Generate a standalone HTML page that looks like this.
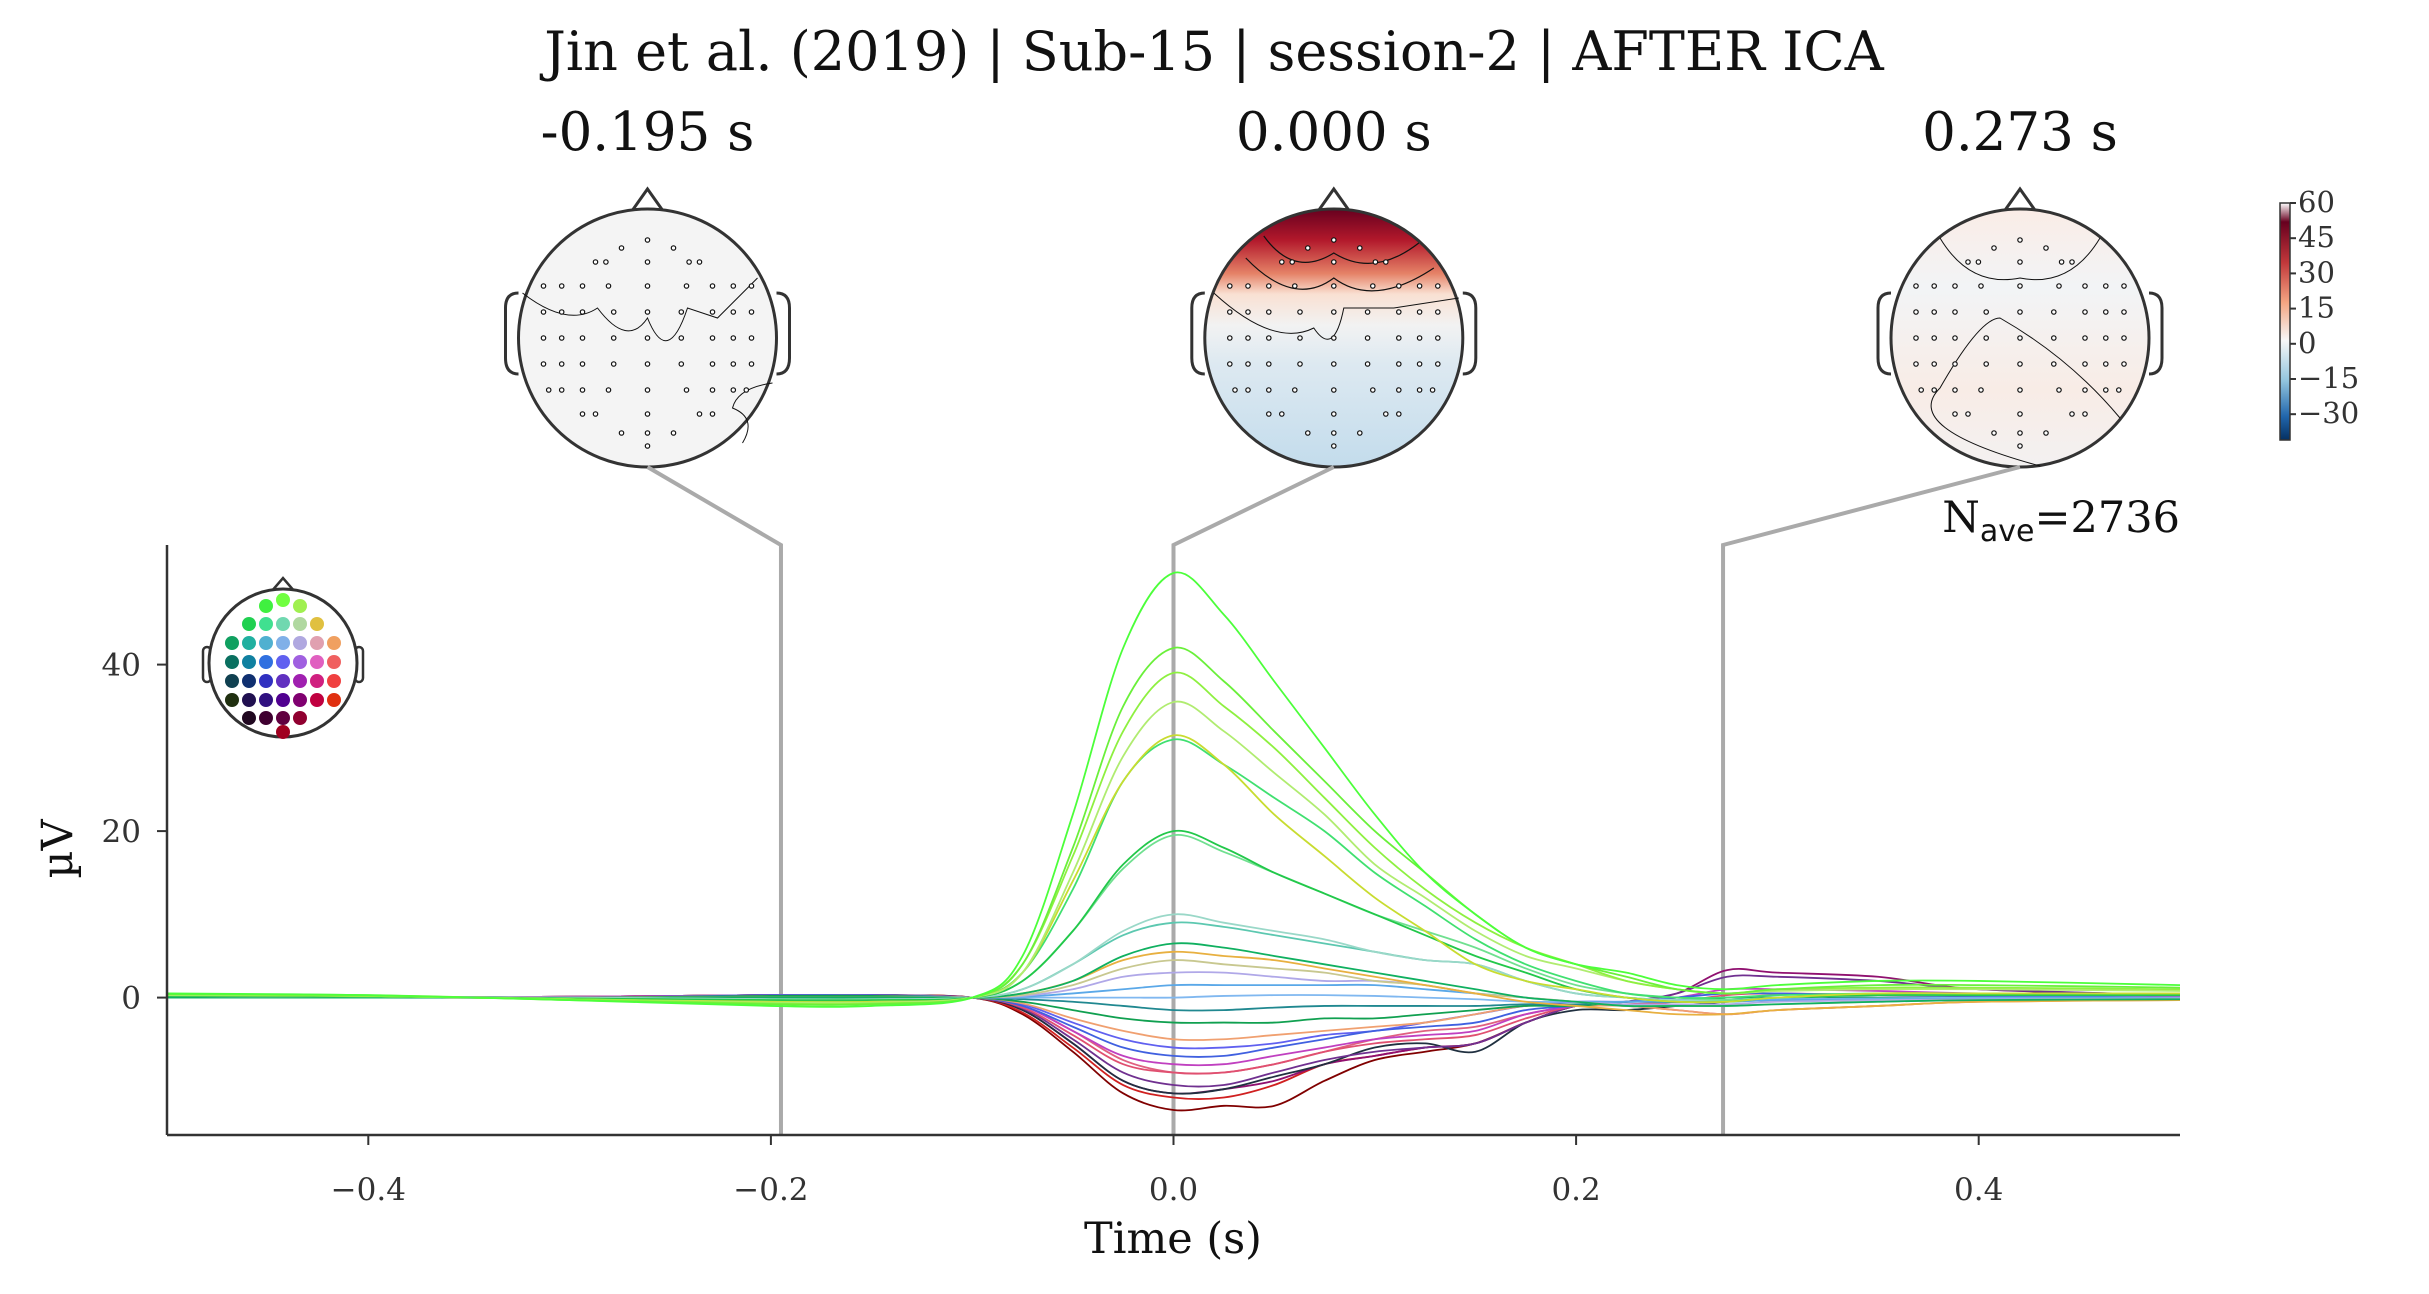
<!DOCTYPE html>
<html><head><meta charset="utf-8">
<style>
html,body{margin:0;padding:0;background:#fff;}
svg{display:block;font-family:"DejaVu Serif","Liberation Serif",serif;}
</style></head>
<body>
<svg id="fig" width="2429" height="1294" viewBox="0 0 2429 1294" xmlns="http://www.w3.org/2000/svg">
<defs>
<linearGradient id="cbar" x1="0" y1="0" x2="0" y2="1">
<stop offset="0" stop-color="#ffffff"/><stop offset="0.08" stop-color="#67001f"/><stop offset="0.25" stop-color="#c1373a"/><stop offset="0.42" stop-color="#f4a582"/><stop offset="0.58" stop-color="#f7f7f7"/><stop offset="0.75" stop-color="#92c5de"/><stop offset="0.9" stop-color="#2166ac"/><stop offset="1" stop-color="#053061"/>
</linearGradient>
<linearGradient id="topo2" x1="0" y1="0" x2="0" y2="1">
<stop offset="0" stop-color="#67001f"/><stop offset="0.12" stop-color="#b2182b"/><stop offset="0.25" stop-color="#e58267"/><stop offset="0.33" stop-color="#f9e0d2"/><stop offset="0.45" stop-color="#f2f2f2"/><stop offset="0.6" stop-color="#dde9f1"/><stop offset="1" stop-color="#c3dcec"/>
</linearGradient>
<linearGradient id="topo3" x1="0" y1="0" x2="0" y2="1">
<stop offset="0" stop-color="#faece6"/><stop offset="0.3" stop-color="#f2f4f6"/><stop offset="0.7" stop-color="#f8ece6"/><stop offset="1" stop-color="#f3f1f1"/>
</linearGradient>
<clipPath id="axclip"><rect x="167" y="545" width="2013" height="590"/></clipPath>
</defs>
<text x="1214" y="70" font-size="54" text-anchor="middle" fill="#111">Jin et al. (2019) | Sub-15 | session-2 | AFTER ICA</text>
<g id="topos"></g>
<g id="axes"></g>
</svg>
<script>
const times = [-0.5,-0.4,-0.3,-0.2,-0.15,-0.1,-0.075,-0.05,-0.025,0,0.025,0.05,0.075,0.1,0.125,0.15,0.175,0.2,0.225,0.25,0.275,0.3,0.35,0.4,0.5];
const chG51 = [0.5,0.3,-0.3,-1,-1,0,5,22,42,51,46,38,30,22,15,10,6,4,3,1.5,1,1.5,2,2,1.5];
const chG42 = [0.4,0.3,-0.3,-0.8,-0.8,0,4,18,35,42,38,32,26,20,15,10,6,4,2.5,1,0.5,1,1.5,1.5,1.2];
const chG39 = [0.4,0.2,-0.2,-0.7,-0.7,0,4,17,32,39,35,30,24,18,13,9,6,4,2,1,0.5,1,1.2,1.2,1];
const chG35 = [0.3,0.2,-0.2,-0.6,-0.6,0,3,15,29,35.5,32,27,22,16,12,8,5,3.5,2,1,0.5,0.8,1,1,0.8];
const chY31 = [0.3,0.2,-0.2,-0.5,-0.5,0,3,14,26,31.5,28,22,17,12,8,4,2,1,0,-0.5,-0.5,0,0.5,0.5,0.5];
const chG31 = [0.3,0.2,-0.2,-0.5,-0.5,0,3,13,26,31,28,24,20,15,11,7,4,2,0.5,0,0,0.3,0.5,0.5,0.5];
const chG20 = [0.2,0.1,-0.1,-0.3,-0.3,0,2,8,16,20,18,15,12.5,10,7.5,5,3,1,0,-0.5,-0.5,0,0.3,0.3,0.3];
const chG19 = [0.2,0.1,-0.1,-0.3,-0.3,0,2,8,15.5,19.5,17.5,15,12.5,10,8,6,3.5,1.5,0.5,0,-0.3,0,0.3,0.3,0.3];
const chT10 = [0.2,0.1,0,-0.2,-0.2,0,1,4,8,10,9,8,7,5.5,4.5,4,2,0.5,0,-0.3,-0.3,0,0.3,0.3,0.3];
const chT9 = [0.2,0.1,0,-0.2,-0.2,0,1,4,7.5,9,8.5,7.5,6.5,5.5,4.5,4,2,0.5,0,-0.3,-0.3,0,0.3,0.3,0.3];
const chG6 = [0,0,0,0,0,0,0.5,2,5,6.5,6,5,4,3,2,1,0,-0.5,-1,-1,-1,-0.8,-0.5,-0.3,-0.2];
const chO5 = [0,0,0,0,0,0,0.5,2,4.5,5.5,5,4.5,3.5,2.5,1.5,0.5,-0.5,-1,-1.5,-2,-2,-1.5,-1,-0.5,-0.3];
const chTan4 = [0,0,0,0,0,0,0.3,1.5,3.5,4.5,4,3.5,3,2,1.5,0.5,0,-0.5,-1,-1,-1,-0.8,-0.5,-0.3,-0.2];
const chLav3 = [0,0,0,0,0,0,0.2,1,2.5,3,3,2.5,2,2,1.5,0.5,0,-0.5,-0.8,-0.8,-0.8,-0.5,-0.3,-0.2,-0.1];
const chB15 = [0,0,0,0,0,0,0.1,0.5,1,1.5,1.5,1.5,1.5,1.5,1,0.5,0,-0.5,-0.5,-0.5,-0.5,-0.3,-0.2,-0.1,0];
const chLb0 = [0,0,0,0,0,0,0,0,0,0,0.2,0.3,0.3,0.2,0,-0.2,-0.5,-0.5,-0.5,-0.3,-0.3,-0.2,-0.1,0,0];
const chTl1 = [0,0,0,0,0,0,-0.2,-0.5,-1,-1.5,-1.5,-1.2,-1,-1,-1,-1,-0.8,-0.8,-0.5,-0.5,-0.3,-0.2,-0.1,0,0];
const chN3 = [0,0,0,0.2,0.2,0,-0.5,-1.5,-2.5,-3,-3,-3,-2.5,-2.5,-2,-1.5,-1,-1,-0.5,-0.5,0,0,0,0,0];
const chN5 = [0,0,0,0.2,0.2,0,-0.7,-2.5,-4,-5,-5,-4.5,-4,-3.5,-3,-2,-1,-1,-1,-1.5,-2,-1.5,-1,-0.5,-0.3];
const chN7 = [0,0,0,0.3,0.3,0,-1,-3.5,-6,-7,-7,-6,-5,-4,-3.5,-3,-1.5,-1,-0.5,0,0.5,0.5,0.3,0.2,0];
const chN8 = [0,0,0.1,0.3,0.3,0,-1,-4,-7,-8,-8,-7,-6,-5,-4.5,-4,-2,-1,-0.5,0,1,1,0.8,0.5,0.2];
const chN9 = [0,0,0.1,0.3,0.3,0,-1.2,-4.5,-8,-9,-9,-8,-6.5,-5.5,-5,-4.5,-2.5,-1,-0.8,-0.5,0.3,0.5,0.3,0.2,0];
const chN10 = [0,0,0.1,0.3,0.3,0,-1.3,-5,-9,-10.5,-10.5,-9,-7.5,-6.5,-6,-5.5,-3,-1,-0.5,0.5,2.5,2.5,2,1,0.3];
const chN11 = [0,0,0.1,0.3,0.3,0,-1.5,-5.5,-10,-11.5,-11,-9.5,-8,-6,-5.5,-6.5,-3,-1.5,-1.5,-1,-0.5,-0.3,-0.2,-0.1,0];
const chN12 = [0,0,0.1,0.3,0.3,0,-1.5,-5.5,-10,-11.5,-11,-10,-8,-7,-6,-5.5,-3,-1,-0.5,0.5,3.3,3,2.5,1,0.3];
const chR12 = [0,0,0.1,0.3,0.3,0,-1.8,-6,-10.5,-12,-12,-10.5,-8,-7,-6,-5.5,-3,-1,-0.5,-0.5,-0.3,-0.2,-0.1,0,0];
const chR13 = [0,0,0.1,0.3,0.3,0,-2,-6.5,-11.5,-13.5,-13,-13,-10,-7.5,-6.5,-5.5,-3,-1,-0.5,-0.5,-0.3,-0.2,-0.1,0,0];
const chV6 = [0,0,0,0.2,0.2,0,-0.8,-3,-5,-6,-6,-5.5,-4.5,-4,-3,-2,-1,-0.5,-0.5,-0.3,0,0,0,0,0];
const chP9 = [0,0,0,0.2,0.2,0,-1,-4,-7.5,-9,-9,-8,-6.5,-5,-4,-3.5,-2,-1,-1,-1.5,-2,-1.5,-1,-0.5,-0.2];
const seriesList = [
 [chG51,'#4cff3a'],[chG42,'#6af03a'],[chG39,'#8ef040'],[chG35,'#b0ec70'],[chY31,'#c8dc30'],[chG31,'#40e070'],
 [chG20,'#22c84a'],[chG19,'#70e090'],[chT10,'#9ad8c8'],[chT9,'#5cc8b0'],[chG6,'#10b060'],[chO5,'#e8b040'],
 [chTan4,'#c8c890'],[chLav3,'#b0a8e8'],[chB15,'#5aa8e8'],[chLb0,'#80b8f0'],[chTl1,'#208890'],[chN3,'#10a050'],
 [chN5,'#f0a070'],[chN7,'#4060e0'],[chN8,'#c040c0'],[chN9,'#e05070'],[chN10,'#703090'],[chN11,'#203040'],
 [chN12,'#901070'],[chR12,'#d02020'],[chR13,'#800000'],[chV6,'#6060f0'],[chP9,'#e06080']];
const xTicks = [-0.4,-0.2,0.0,0.2,0.4];
const xTickLabels = ['\u22120.4','\u22120.2','0.0','0.2','0.4'];
const yTicks = [0,20,40];
const yTickLabels = ['0','20','40'];
const topoTimes = [-0.195,0.000,0.273];
const topoLabels = ['-0.195 s','0.000 s','0.273 s'];
const cbarTicks = [60,45,30,15,0,-15,-30];
const cbarLabels = ['60','45','30','15','0','\u221215','\u221230'];

const NS='http://www.w3.org/2000/svg';
function mk(tag,attrs,parent){const e=document.createElementNS(NS,tag);for(const k in attrs)e.setAttribute(k,attrs[k]);parent.appendChild(e);return e;}
const X0=167,X1=2180,Y0=545,Y1=1135;
const xs=t=>X0+(t+0.5)/1.0*(X1-X0);
const ys=v=>997.6-v*(997.6-664.6)/40;
const ax=document.getElementById('axes');
const tp=document.getElementById('topos');

const heads=[647.5,1333.8,2020];
const fills=['#f4f4f4','url(#topo2)','url(#topo3)'];
const R=129, CY=338;
const rows=[[-98,[0]],[-90,[-1,1]],[-76,[-2,-1.6,0,1.6,2]],[-52,[-4,-3.3,-2.5,-1.5,0,1.5,2.5,3.3,4]],[-26,[-4,-3.3,-2.5,-1.3,0,1.3,2.5,3.3,4]],[0,[-4,-3.3,-2.5,-1.3,0,1.3,2.5,3.3,4]],[26,[-4,-3.3,-2.5,-1.3,0,1.3,2.5,3.3,4]],[52,[-3.8,-3.3,-2.5,-1.5,0,1.5,2.5,3.3,3.8]],[76,[-2.5,-2,0,2,2.5]],[95,[-1,0,1]],[108,[0]]];
heads.forEach((cx,i)=>{
 const g=mk('g',{},tp);
 
 
 const lab=mk('text',{x:cx,y:150,'font-size':53,'text-anchor':'middle',fill:'#111'},g);lab.textContent=topoLabels[i];
 
 
 mk('path',{d:`M${cx-17} ${CY-R+4} L${cx} ${CY-R-20} L${cx+17} ${CY-R+4}`,fill:'none',stroke:'#333','stroke-width':3},g);
 mk('path',{d:`M${cx-R} ${CY-45} Q${cx-R-13} ${CY-45} ${cx-R-13} ${CY-30} L${cx-R-13} ${CY+20} Q${cx-R-13} ${CY+36} ${cx-R} ${CY+36}`,fill:'none',stroke:'#333','stroke-width':3},g);
 mk('path',{d:`M${cx+R} ${CY-45} Q${cx+R+13} ${CY-45} ${cx+R+13} ${CY-30} L${cx+R+13} ${CY+20} Q${cx+R+13} ${CY+36} ${cx+R} ${CY+36}`,fill:'none',stroke:'#333','stroke-width':3},g);
 mk('circle',{cx:cx,cy:CY,r:R,fill:fills[i],stroke:'#333','stroke-width':3},g);
 if(i===1){
  mk('path',{d:`M${cx-70} ${CY-102} Q${cx-40} ${CY-60} ${cx} ${CY-85} Q${cx+40} ${CY-60} ${cx+85} ${CY-95}`,fill:'none',stroke:'#111','stroke-width':1.2},g);
  mk('path',{d:`M${cx-88} ${CY-80} Q${cx-40} ${CY-30} ${cx} ${CY-60} Q${cx+40} ${CY-30} ${cx+100} ${CY-70}`,fill:'none',stroke:'#111','stroke-width':1.2},g);
  mk('path',{d:`M${cx-120} ${CY-45} Q${cx-60} ${CY+10} ${cx-20} ${CY-10} Q${cx} ${CY+20} ${cx+10} ${CY-30} L${cx+60} ${CY-30} L${cx+125} ${CY-40}`,fill:'none',stroke:'#111','stroke-width':1},g);
 } else if(i===0){
  mk('path',{d:`M${cx-125} ${CY-45} Q${cx-80} ${CY-10} ${cx-50} ${CY-30} Q${cx-20} ${CY+10} ${cx} ${CY-20} Q${cx+20} ${CY+30} ${cx+40} ${CY-30} L${cx+70} ${CY-20} L${cx+110} ${CY-60}`,fill:'none',stroke:'#111','stroke-width':1},g);
  mk('path',{d:`M${cx+125} ${CY+45} Q${cx+90} ${CY+50} ${cx+85} ${CY+70} Q${cx+110} ${CY+80} ${cx+95} ${CY+105}`,fill:'none',stroke:'#111','stroke-width':1},g);
 } else {
  mk('path',{d:`M${cx-80} ${CY-100} Q${cx-50} ${CY-50} ${cx} ${CY-60} Q${cx+50} ${CY-50} ${cx+80} ${CY-100}`,fill:'none',stroke:'#111','stroke-width':1},g);
  mk('path',{d:`M${cx+20} ${CY+128} Q${cx-120} ${CY+90} ${cx-80} ${CY+50} Q${cx-40} ${CY-20} ${cx-20} ${CY-20} Q${cx+50} ${CY+20} ${cx+100} ${CY+80}`,fill:'none',stroke:'#111','stroke-width':1},g);
 }
 rows.forEach(([dy,cols])=>cols.forEach(c=>{mk('circle',{cx:cx+c*26,cy:CY+dy,r:2.2,fill:'#fff',stroke:'#111','stroke-width':1.2},g);}));
});
const cb=mk('g',{},tp);


mk('rect',{x:2280,y:203,width:10,height:237,fill:'url(#cbar)',stroke:'#333','stroke-width':1.5},cb);
const cbY=v=>203+(60-v)/(60+41)*237;
cbarTicks.forEach((v,i)=>{mk('line',{x1:2290,x2:2296,y1:cbY(v),y2:cbY(v),stroke:'#333','stroke-width':2},cb);
 const t=mk('text',{x:2298,y:cbY(v)+9,'font-size':29,fill:'#333'},cb);t.textContent=cbarLabels[i];});

topoTimes.forEach((t,i)=>{const l=mk('polyline',{points:`${heads[i]},${CY+R} ${xs(t)},545 ${xs(t)},1135`,fill:'none',stroke:'#aaa','stroke-width':4},ax);
 
 });

const sg=mk('g',{'clip-path':'url(#axclip)'},ax);


function smooth(pts){let d=`M${pts[0][0]} ${pts[0][1]}`;for(let i=0;i<pts.length-1;i++){const p0=pts[Math.max(0,i-1)],p1=pts[i],p2=pts[i+1],p3=pts[Math.min(pts.length-1,i+2)];
 d+=` C${p1[0]+(p2[0]-p0[0])/6} ${p1[1]+(p2[1]-p0[1])/6} ${p2[0]-(p3[0]-p1[0])/6} ${p2[1]-(p3[1]-p1[1])/6} ${p2[0]} ${p2[1]}`;}return d;}
seriesList.slice().reverse().forEach(([vals,col])=>{
 const p=mk('path',{d:smooth(times.map((t,i)=>[xs(t),ys(vals[i])])),fill:'none',stroke:col,'stroke-width':1.8},sg);
 
 
});

mk('line',{x1:X0,x2:X0,y1:Y0,y2:Y1,stroke:'#333','stroke-width':2.5},ax);
mk('line',{x1:X0,x2:X1,y1:Y1,y2:Y1,stroke:'#333','stroke-width':2.5},ax);
xTicks.forEach((t,i)=>{mk('line',{x1:xs(t),x2:xs(t),y1:Y1,y2:Y1+10,stroke:'#333','stroke-width':2},ax);
 const tx=mk('text',{x:xs(t),y:1200,'font-size':31,'text-anchor':'middle',fill:'#333'},ax);tx.textContent=xTickLabels[i];
 
 });
yTicks.forEach((v,i)=>{mk('line',{x1:X0-10,x2:X0,y1:ys(v),y2:ys(v),stroke:'#333','stroke-width':2},ax);
 const tx=mk('text',{x:X0-26,y:ys(v)+11,'font-size':31,'text-anchor':'end',fill:'#333'},ax);tx.textContent=yTickLabels[i];
 
 });
</script>
<svg style="position:absolute;left:0;top:0" width="2429" height="1294" viewBox="0 0 2429 1294" font-family="DejaVu Serif, Liberation Serif, serif">
<text x="1173" y="1253" font-size="43" text-anchor="middle" fill="#111">Time (s)</text>
<text transform="translate(72,849) rotate(-90)" font-size="43" text-anchor="middle" fill="#111">µV</text>
<text x="2180" y="532" font-size="43" text-anchor="end" fill="#111">N<tspan font-size="30" dy="9" font-family="DejaVu Sans, sans-serif">ave</tspan><tspan dy="-9">=2736</tspan></text>
<g>
<path d="M271 592 L283 578 L295 592" fill="none" stroke="#333" stroke-width="2.5"/>
<rect x="203" y="647" width="8" height="35" rx="4" fill="none" stroke="#333" stroke-width="2.5"/>
<rect x="355" y="647" width="8" height="35" rx="4" fill="none" stroke="#333" stroke-width="2.5"/>
<circle cx="283" cy="663" r="74" fill="#fff" stroke="#333" stroke-width="3"/>
<g>
<circle cx="283" cy="600" r="7" fill="#70ff40"/><circle cx="266" cy="606" r="7" fill="#40f040"/><circle cx="300" cy="606" r="7" fill="#a0f050"/>
<circle cx="249" cy="624" r="7" fill="#20d050"/><circle cx="266" cy="624" r="7" fill="#40e090"/><circle cx="283" cy="624" r="7" fill="#70d8b0"/><circle cx="300" cy="624" r="7" fill="#b0d8a0"/><circle cx="317" cy="624" r="7" fill="#e0c040"/>
<circle cx="232" cy="643" r="7" fill="#10a060"/><circle cx="249" cy="643" r="7" fill="#20b0a0"/><circle cx="266" cy="643" r="7" fill="#50b0d0"/><circle cx="283" cy="643" r="7" fill="#80b0e8"/><circle cx="300" cy="643" r="7" fill="#b0a8e0"/><circle cx="317" cy="643" r="7" fill="#e0a0b0"/><circle cx="334" cy="643" r="7" fill="#f0a060"/>
<circle cx="232" cy="662" r="7" fill="#0a7060"/><circle cx="249" cy="662" r="7" fill="#1080a0"/><circle cx="266" cy="662" r="7" fill="#3070e0"/><circle cx="283" cy="662" r="7" fill="#6060f0"/><circle cx="300" cy="662" r="7" fill="#a060e0"/><circle cx="317" cy="662" r="7" fill="#e060c0"/><circle cx="334" cy="662" r="7" fill="#f06060"/>
<circle cx="232" cy="681" r="7" fill="#104050"/><circle cx="249" cy="681" r="7" fill="#103070"/><circle cx="266" cy="681" r="7" fill="#3030c0"/><circle cx="283" cy="681" r="7" fill="#6030c0"/><circle cx="300" cy="681" r="7" fill="#a020b0"/><circle cx="317" cy="681" r="7" fill="#d02080"/><circle cx="334" cy="681" r="7" fill="#f04040"/>
<circle cx="232" cy="700" r="7" fill="#203010"/><circle cx="249" cy="700" r="7" fill="#201050"/><circle cx="266" cy="700" r="7" fill="#301080"/><circle cx="283" cy="700" r="7" fill="#500090"/><circle cx="300" cy="700" r="7" fill="#800070"/><circle cx="317" cy="700" r="7" fill="#c00040"/><circle cx="334" cy="700" r="7" fill="#e03010"/>
<circle cx="249" cy="718" r="7" fill="#200820"/><circle cx="266" cy="718" r="7" fill="#400030"/><circle cx="283" cy="718" r="7" fill="#600040"/><circle cx="300" cy="718" r="7" fill="#900030"/><circle cx="283" cy="732" r="7" fill="#a00020"/>
</g></g>
</svg>
</body></html>
